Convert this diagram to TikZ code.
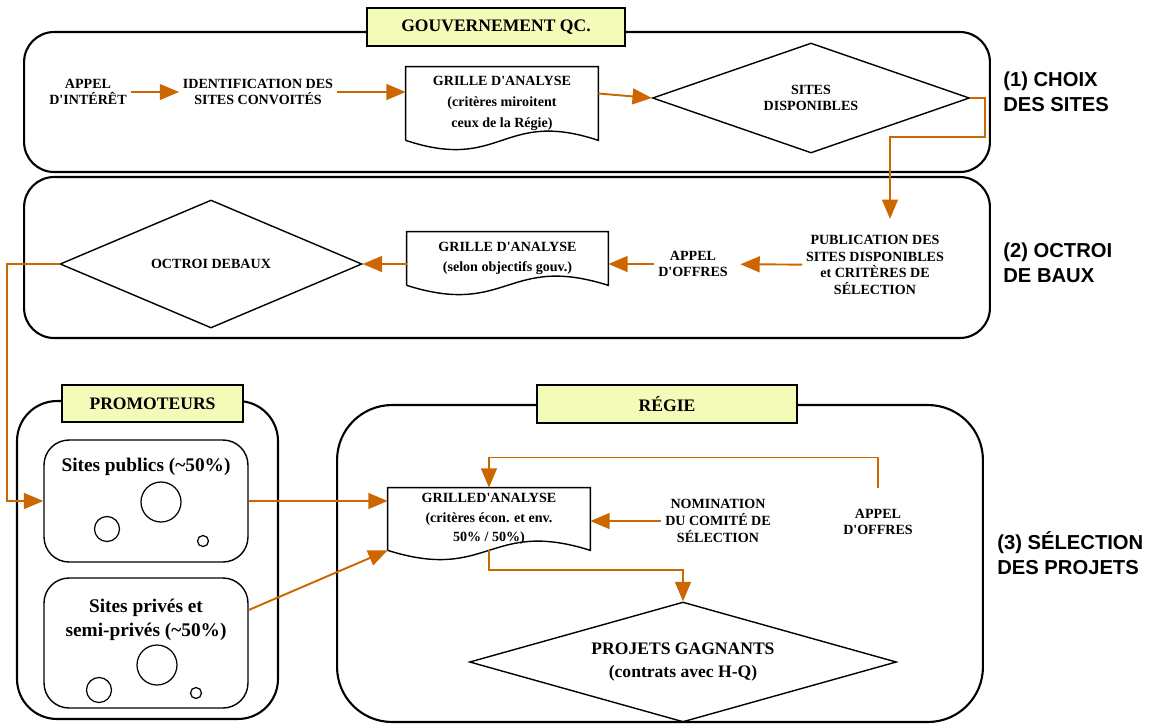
\documentclass[tikz,border=0pt]{standalone}
\usepackage{fontspec}
\setmainfont{Liberation Serif}[Ligatures=TeXOff]
\newfontfamily\sidefont{Liberation Sans}
\usepackage{tikz}
\usetikzlibrary{shapes.geometric,arrows.meta,positioning,calc}
\definecolor{flowor}{RGB}{204,102,0}
\definecolor{tagyellow}{RGB}{244,250,184}

\begin{document}
\begin{tikzpicture}[x=0.02cm, y=-0.02cm,
  panel/.style={draw, line width=1.2pt, rounded corners=#1, inner sep=0pt},
  panel/.default=0.6cm,
  tag/.style={draw, line width=1.2pt, fill=tagyellow, inner sep=0pt, font=\fontsize{10}{12}\selectfont\bfseries},
  inbox/.style={draw, line width=0.8pt, rounded corners=0.5cm, inner sep=0pt},
  boxtxt/.style={font=\fontsize{11}{14}\selectfont\bfseries, align=center},
  flowtxt/.style={font=\fontsize{8}{9.5}\selectfont\bfseries, align=center, inner sep=2pt},
  doc/.style={font=\fontsize{8}{11}\selectfont\bfseries, align=center, inner sep=0pt},
  choice/.style={draw, diamond, line width=0.8pt, inner sep=0pt, align=center, font=\fontsize{8}{9.5}\selectfont\bfseries},
  flow/.style={draw=flowor, line width=1.1pt, -{Triangle[length=11pt,width=9pt]}},
  side/.style={anchor=west, inner sep=0pt, align=left, font=\sidefont\fontsize{11.5}{14}\selectfont\bfseries}]
\useasboundingbox (0,0) rectangle (1154,725);

% Panels
\node[panel, minimum width=19.32cm, minimum height=2.8cm] (gouvpanel) at (507,102) {};
\node[panel, minimum width=19.32cm, minimum height=3.22cm] (bauxpanel) at (507,257.5) {};
\node[panel=0.8cm, minimum width=5.22cm, minimum height=6.36cm] (promopanel) at (147.5,560) {};
\node[panel=1.1cm, minimum width=12.92cm, minimum height=6.34cm] (regiepanel) at (660,563.5) {};

\node[tag, minimum width=5.16cm, minimum height=0.76cm] (gouvtag) at (496,27) {GOUVERNEMENT QC.};
\node[tag, minimum width=3.62cm, minimum height=0.74cm] (promotag) at (152.5,403.5) {PROMOTEURS};
\node[tag, minimum width=5.2cm, minimum height=0.76cm] (regietag) at (667,404) {RÉGIE};

% (1) Choix des sites
\node[flowtxt] (appelI) at (88,92) {APPEL\\D'INTÉRÊT};
\node[flowtxt] (ident) at (258,92) {IDENTIFICATION DES\\SITES CONVOITÉS};
\node[doc, minimum width=3.84cm, minimum height=1.46cm, font=\fontsize{8}{12}\selectfont\bfseries] (grilleA) at (502,103.5) {GRILLE D'ANALYSE\\(critères miroitent\\ceux de la Régie)};
\node[choice, aspect=2.9, minimum width=6.34cm, minimum height=2.2cm] (dispo) at (811,98) {SITES\\DISPONIBLES};

% (2) Octroi de baux
\node[flowtxt] (public) at (875,265) {PUBLICATION DES\\SITES DISPONIBLES\\et CRITÈRES DE\\SÉLECTION};
\node[flowtxt] (appelO) at (693,264) {APPEL\\D'OFFRES};
\node[doc, minimum width=4.02cm, minimum height=1.06cm] (grilleB) at (507.5,258.5) {GRILLE D'ANALYSE\\(selon objectifs gouv.)};
\node[choice, aspect=2.36, minimum width=6.04cm, minimum height=2.56cm] (octroi) at (211,264) {OCTROI DEBAUX};

% (3) Selection des projets
\node[inbox, minimum width=4.08cm, minimum height=2.44cm] (publics) at (146,501) {};
\node[boxtxt] (publicsTxt) at (146,467) {Sites publics (\textasciitilde50\%)};
\node[inbox, minimum width=4.08cm, minimum height=2.6cm] (prives) at (146,643) {};
\node[boxtxt] (privesTxt) at (146,620) {Sites privés et\\semi-privés (\textasciitilde50\%)};
\draw[line width=0.7pt] (161,502) circle[radius=0.4cm] (107,529) circle[radius=0.25cm] (203,541) circle[radius=0.11cm];
\draw[line width=0.7pt] (157,665) circle[radius=0.4cm] (99,690) circle[radius=0.25cm] (196,693) circle[radius=0.11cm];

\node[doc, minimum width=4.04cm, minimum height=1.24cm] (grilleC) at (489,519) {GRILLED'ANALYSE\\(critères écon. et env.\\50\% / 50\%)};
\node[flowtxt] (nomin) at (718,521) {NOMINATION\\DU COMITÉ DE\\SÉLECTION};
\node[flowtxt] (appelR) at (878,522) {APPEL\\D'OFFRES};
\node[choice, aspect=3.56, minimum width=8.54cm, minimum height=2.4cm, font=\fontsize{10}{13}\selectfont\bfseries] (projets) at (683,662) {PROJETS GAGNANTS\\(contrats avec H-Q)};

% Document outlines
\foreach \g in {grilleA,grilleB,grilleC}
  \draw[line width=0.8pt] (\g.south west) -- (\g.north west) -- (\g.north east) -- (\g.south east)
    .. controls ($(\g.south)+(0,-32)$) and ($(\g.south)+(0,32)$) .. (\g.south west);

% Side labels
\node[side] (side1) at (1003,92) {(1) CHOIX\\DES SITES};
\node[side] (side2) at (1003,263) {(2) OCTROI\\DE BAUX};
\node[side] (side3) at (997,553) {(3) SÉLECTION\\DES PROJETS};

% Connectors
\draw[flow] (appelI) -- (ident);
\draw[flow] (ident.east) -- (ident.east -| grilleA.west);
\draw[flow] ([yshift=0.2cm]grilleA.east) -- (dispo.west);
\draw[flow] (dispo.east) -- ++(15,0) -- ++(0,39) -| ([xshift=0.3cm,yshift=0.25cm]public.north);
\draw[flow, shorten >=5pt] (public) -- (appelO);
\draw[flow] (appelO.west) -- (appelO.west -| grilleB.east);
\draw[flow] (grilleB.west |- octroi.east) -- (octroi.east);
\draw[flow] (octroi.west) -- ++(-52,0) |- (publics.west);
\draw[flow] (publics.east) -- (publics.east -| grilleC.west);
\draw[flow] ([yshift=0.66cm]prives.east) -- (grilleC.south west);
\draw[flow] (nomin.west) -- (nomin.west -| grilleC.east);
\draw[flow] ([yshift=10pt]appelR.north) -- ++(0,-30) -| (grilleC.north);
\draw[flow] (grilleC.south) -- ++(0,20) -| (projets.north);
\end{tikzpicture}
\end{document}
